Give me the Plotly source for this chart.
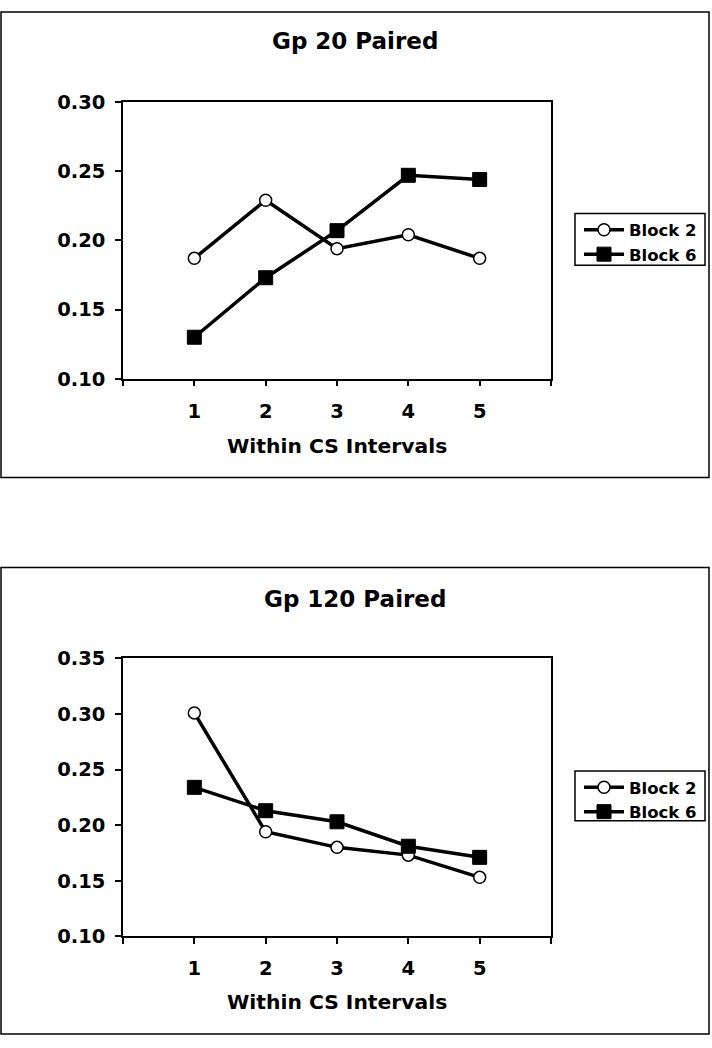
import plotly.graph_objects as go

# ---- data ----
intervals = [1, 2, 3, 4, 5]
tick_vals = [0, 1, 2, 3, 4, 5, 6]
tick_text = ["", "1", "2", "3", "4", "5", ""]

gp20_block2 = [0.187, 0.229, 0.194, 0.204, 0.187]
gp20_block6 = [0.130, 0.173, 0.207, 0.247, 0.244]

gp120_block2 = [0.301, 0.194, 0.180, 0.173, 0.153]
gp120_block6 = [0.234, 0.213, 0.203, 0.181, 0.171]

titles = ["Gp 20 Paired", "Gp 120 Paired"]
x_title = "Within CS Intervals"
series_names = ["Block 2", "Block 6"]

W, H = 712, 1048
FONT = "DejaVu Sans"

def py(px):
    return 1 - px / H

fig = go.Figure()

panels = [
    dict(b2=gp20_block2, b6=gp20_block6, xa="x", ya="y", legend="legend",
         top=93, bot=376, yr=[0.10, 0.30]),
    dict(b2=gp120_block2, b6=gp120_block6, xa="x2", ya="y2", legend="legend2",
         top=662, bot=946, yr=[0.10, 0.35]),
]

for p in panels:
    fig.add_trace(go.Scatter(
        x=intervals, y=p["b2"], name=series_names[0], mode="lines+markers",
        xaxis=p["xa"], yaxis=p["ya"], legend=p["legend"],
        line=dict(color="black", width=3.5),
        marker=dict(symbol="circle", size=12, color="white",
                    line=dict(color="black", width=1.5)),
    ))
    fig.add_trace(go.Scatter(
        x=intervals, y=p["b6"], name=series_names[1], mode="lines+markers",
        xaxis=p["xa"], yaxis=p["ya"], legend=p["legend"],
        line=dict(color="black", width=3.5),
        marker=dict(symbol="square", size=14, color="black",
                    line=dict(color="black", width=1)),
    ))

xdom = [123 / W, 551 / W]
axis_common = dict(
    showline=True, linecolor="black", linewidth=1.5, mirror=True,
    ticks="outside", ticklen=6, tickcolor="black", tickwidth=1.5,
    showgrid=False, zeroline=False,
    tickfont=dict(family=FONT, size=19.5, color="black", weight="bold"),
)

for i, p in enumerate(panels):
    sx = "" if i == 0 else "2"
    fig.layout["xaxis" + sx] = dict(
        axis_common, domain=xdom, range=[0, 6], tickvals=tick_vals,
        ticktext=tick_text, anchor="y" + sx, ticklabelstandoff=8,
    )
    fig.layout["yaxis" + sx] = dict(
        axis_common, domain=[py(p["bot"]), py(p["top"])], range=p["yr"],
        dtick=0.05, tick0=0.10, tickformat=".2f", anchor="x" + sx,
        ticklabelstandoff=6,
    )

annotations = []
title_y = [31, 601]
xt_y = [445, 1013]
for i in range(2):
    annotations.append(dict(
        text=titles[i], x=355 / W, y=py(title_y[i]), xref="paper", yref="paper",
        xanchor="center", yanchor="middle", showarrow=False,
        font=dict(family=FONT, size=23, color="black", weight="bold"),
    ))
    annotations.append(dict(
        text=x_title, x=337 / W, y=py(xt_y[i]), xref="paper", yref="paper",
        xanchor="center", yanchor="middle", showarrow=False,
        font=dict(family=FONT, size=20.3, color="black", weight="bold"),
    ))

shapes = [
    dict(type="rect", xref="paper", yref="paper", x0=1 / W, x1=709 / W,
         y0=py(477), y1=py(1), line=dict(color="black", width=1.5)),
    dict(type="rect", xref="paper", yref="paper", x0=1 / W, x1=709 / W,
         y0=py(1046), y1=py(569), line=dict(color="black", width=1.5)),
    # legend boxes
    dict(type="rect", xref="paper", yref="paper", x0=575 / W, x1=705 / W,
         y0=py(260), y1=py(207), line=dict(color="black", width=1.5)),
    dict(type="rect", xref="paper", yref="paper", x0=575 / W, x1=705 / W,
         y0=py(828), y1=py(777), line=dict(color="black", width=1.5)),
]

legend_common = dict(
    xref="paper", yref="paper", xanchor="left", yanchor="top",
    borderwidth=0, bgcolor="rgba(0,0,0,0)",
    font=dict(family=FONT, size=16.5, color="black", weight="bold"),
    tracegroupgap=0, itemwidth=40,
)

fig.update_layout(
    width=W, height=H,
    margin=dict(l=0, r=0, t=0, b=0),
    paper_bgcolor="white", plot_bgcolor="white",
    showlegend=True,
    legend=dict(legend_common, x=579 / W, y=py(206)),
    legend2=dict(legend_common, x=579 / W, y=py(776)),
    annotations=annotations,
    shapes=shapes,
)

post = (
    "document.documentElement.style.margin='0';"
    "document.body.style.margin='0';document.body.style.overflow='hidden';"
    "var gd=document.getElementById('{plot_id}');"
    "gd.style.position='fixed';gd.style.top='0px';gd.style.left='0px';"
)

fig.write_html("out.html", config={"displayModeBar": False}, post_script=post)
